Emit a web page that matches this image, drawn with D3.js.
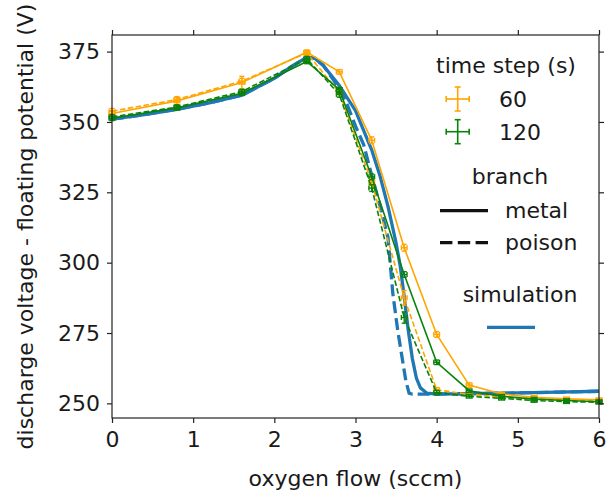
<!DOCTYPE html>
<html>
<head>
<meta charset="utf-8">
<script src="https://cdn.jsdelivr.net/npm/d3@7"></script>
<style>
  body { margin: 0; background: #fff; }
  text { font-family: "DejaVu Sans", sans-serif; fill: #1a1a1a; }
</style>
</head>
<body>
<div class="chart"></div>
<script>
// oxygen flow steps (sccm)
var flow = [0, 0.8, 1.6, 2.4, 2.8, 3.2, 3.6, 4.0, 4.4, 4.8, 5.2, 5.6, 6.0];

// measured voltage, time step 60 s
var metal60  = [353.0, 357.5, 364.0, 374.8, 367.8, 343.5, 305.3, 274.5, 256.5, 253.3, 252.2, 251.6, 251.3];
var poison60 = [353.8, 358.0, 364.5, 374.5, 360.5, 328.5, 287.5, 254.8, 253.2, 252.3, 251.7, 251.3, 251.0];
var errMetal60  = [1.0, 1.2, 2.2, 0.8, 0.8, 1.2, 1.2, 1.0, 0.8, 0.6, 0.6, 0.6, 0.6];
var errPoison60 = [1.0, 1.0, 1.0, 0.8, 0.8, 1.0, 2.6, 0.8, 0.6, 0.6, 0.6, 0.6, 0.6];

// measured voltage, time step 120 s
var metal120  = [351.3, 355.0, 360.2, 371.5, 361.5, 330.5, 295.8, 264.6, 254.5, 252.5, 251.5, 251.0, 250.6];
var poison120 = [351.8, 355.3, 360.8, 372.5, 359.8, 326.5, 280.5, 253.8, 252.5, 251.8, 251.0, 250.6, 250.4];
var errMetal120  = [0.8, 0.8, 0.8, 0.8, 0.8, 1.0, 1.0, 0.8, 0.6, 0.6, 0.6, 0.6, 0.6];
var errPoison120 = [0.8, 0.8, 0.8, 0.8, 1.0, 1.2, 2.0, 0.8, 0.6, 0.6, 0.6, 0.6, 0.6];
var flowErr = 0.035;

// simulation, metal branch
var simMetalX = [0, 0.4, 0.8, 1.2, 1.6, 2.0, 2.2, 2.4, 2.5, 2.6, 2.8, 3.0, 3.2, 3.3, 3.4, 3.5, 3.55, 3.6, 3.65, 3.7, 3.75, 3.8, 3.88, 4.0, 4.5, 5.0, 5.5, 6.0];
var simMetalY = [351.0, 352.6, 354.5, 356.8, 359.5, 365.5, 369.5, 373.0, 372.6, 370.2, 363.0, 354.0, 340.0, 331.0, 320.0, 307.0, 299.0, 288.0, 276.0, 266.0, 259.0, 255.5, 253.6, 253.3, 253.5, 253.7, 254.0, 254.3];
// simulation, poison branch
var simPoisonX = [0, 0.4, 0.8, 1.2, 1.6, 2.0, 2.2, 2.4, 2.5, 2.6, 2.8, 2.9, 3.0, 3.1, 3.2, 3.3, 3.4, 3.46, 3.52, 3.57, 3.62, 3.66, 3.7, 4.0, 4.5, 5.0, 5.5, 6.0];
var simPoisonY = [351.0, 352.6, 354.5, 356.8, 359.5, 365.5, 369.5, 373.0, 372.6, 370.2, 362.0, 356.0, 348.5, 342.0, 331.0, 320.5, 309.0, 289.0, 276.0, 267.0, 258.0, 253.6, 253.3, 253.3, 253.5, 253.7, 254.0, 254.3];

var xTicks = [0, 1, 2, 3, 4, 5, 6];
var yTicks = [250, 275, 300, 325, 350, 375];

var svgWidth = 613;
var svgHeight = 493;
var margin = { top: 35, right: 14, bottom: 75, left: 112 };
var width = svgWidth - margin.left - margin.right;
var height = svgHeight - margin.top - margin.bottom;

var orange = "#ffa500";
var green = "#0a820a";
var blue = "#1f77b4";

var svg = d3.select(".chart")
  .append("svg")
  .attr("width", svgWidth)
  .attr("height", svgHeight);

var chartGroup = svg.append("g")
  .attr("transform", `translate(${margin.left}, ${margin.top})`);

var xScale = d3.scaleLinear().domain([0, 6]).range([0, width]);
var yScale = d3.scaleLinear().domain([244.8, 380.9]).range([height, 0]);

var line = d3.line().x(d => xScale(d[0])).y(d => yScale(d[1]));

// simulation curves (drawn under the data)
chartGroup.append("path")
  .attr("d", line(d3.zip(simMetalX, simMetalY)))
  .attr("fill", "none").attr("stroke", blue).attr("stroke-width", 3.3);
chartGroup.append("path")
  .attr("d", line(d3.zip(simPoisonX, simPoisonY)))
  .attr("fill", "none").attr("stroke", blue).attr("stroke-width", 3.3)
  .attr("stroke-dasharray", "12,5");

// measured series with error bars
function drawSeries(ys, errs, color, dashed) {
  var pts = d3.zip(flow, ys, errs);
  chartGroup.append("path")
    .attr("d", line(pts))
    .attr("fill", "none").attr("stroke", color).attr("stroke-width", 1.6)
    .attr("stroke-dasharray", dashed ? "5.5,2.5" : null);

  var g = chartGroup.selectAll(null).data(pts).enter().append("g")
    .attr("stroke", color).attr("stroke-width", 1.4);
  var cap = 2.5;
  // vertical bars
  g.append("line")
    .attr("x1", d => xScale(d[0])).attr("x2", d => xScale(d[0]))
    .attr("y1", d => yScale(d[1] - d[2])).attr("y2", d => yScale(d[1] + d[2]));
  g.append("line")
    .attr("x1", d => xScale(d[0]) - cap).attr("x2", d => xScale(d[0]) + cap)
    .attr("y1", d => yScale(d[1] - d[2])).attr("y2", d => yScale(d[1] - d[2]));
  g.append("line")
    .attr("x1", d => xScale(d[0]) - cap).attr("x2", d => xScale(d[0]) + cap)
    .attr("y1", d => yScale(d[1] + d[2])).attr("y2", d => yScale(d[1] + d[2]));
  // horizontal bars
  g.append("line")
    .attr("x1", d => xScale(d[0] - flowErr)).attr("x2", d => xScale(d[0] + flowErr))
    .attr("y1", d => yScale(d[1])).attr("y2", d => yScale(d[1]));
  g.append("line")
    .attr("x1", d => xScale(d[0] - flowErr)).attr("x2", d => xScale(d[0] - flowErr))
    .attr("y1", d => yScale(d[1]) - cap).attr("y2", d => yScale(d[1]) + cap);
  g.append("line")
    .attr("x1", d => xScale(d[0] + flowErr)).attr("x2", d => xScale(d[0] + flowErr))
    .attr("y1", d => yScale(d[1]) - cap).attr("y2", d => yScale(d[1]) + cap);
}

drawSeries(metal60, errMetal60, orange, false);
drawSeries(poison60, errPoison60, orange, true);
drawSeries(metal120, errMetal120, green, false);
drawSeries(poison120, errPoison120, green, true);

// axes, ticks on all four sides
var bottomAxis = d3.axisBottom(xScale).tickValues(xTicks).tickFormat(d3.format("d")).tickSize(5).tickPadding(8);
var leftAxis = d3.axisLeft(yScale).tickValues(yTicks).tickSize(5).tickPadding(7);
var topAxis = d3.axisTop(xScale).tickValues(xTicks).tickFormat("").tickSize(5);
var rightAxis = d3.axisRight(yScale).tickValues(yTicks).tickFormat("").tickSize(5);

chartGroup.append("g").attr("transform", `translate(0, ${height})`).call(bottomAxis);
chartGroup.append("g").call(leftAxis);
chartGroup.append("g").call(topAxis);
chartGroup.append("g").attr("transform", `translate(${width}, 0)`).call(rightAxis);

chartGroup.selectAll(".domain").remove();
chartGroup.selectAll(".tick line").attr("stroke", "#222").attr("stroke-width", 1.2);
chartGroup.selectAll(".tick text").attr("font-size", 22).attr("fill", "#1a1a1a")
  .style("font-family", "DejaVu Sans");

chartGroup.append("rect")
  .attr("width", width).attr("height", height)
  .attr("fill", "none").attr("stroke", "#222").attr("stroke-width", 1.2);

// axis labels
svg.append("text")
  .attr("transform", `translate(33, ${margin.top + height / 2}) rotate(-90)`)
  .attr("text-anchor", "middle")
  .attr("font-size", 22)
  .text("discharge voltage - floating potential (V)");

svg.append("text")
  .attr("x", margin.left + width / 2)
  .attr("y", 486)
  .attr("text-anchor", "middle")
  .attr("font-size", 22)
  .text("oxygen flow (sccm)");

// legends
var legend = svg.append("g");
legend.append("text").attr("x", 506).attr("y", 73).attr("text-anchor", "middle")
  .attr("font-size", 22).text("time step (s)");

function legendErr(cx, cy, color, label) {
  var g = legend.append("g").attr("stroke", color).attr("stroke-width", 1.6);
  g.append("line").attr("x1", cx - 11.5).attr("x2", cx + 11.5).attr("y1", cy).attr("y2", cy);
  g.append("line").attr("x1", cx).attr("x2", cx).attr("y1", cy - 12).attr("y2", cy + 12);
  g.append("line").attr("x1", cx - 11.5).attr("x2", cx - 11.5).attr("y1", cy - 3).attr("y2", cy + 3);
  g.append("line").attr("x1", cx + 11.5).attr("x2", cx + 11.5).attr("y1", cy - 3).attr("y2", cy + 3);
  g.append("line").attr("x1", cx - 3).attr("x2", cx + 3).attr("y1", cy - 12).attr("y2", cy - 12);
  g.append("line").attr("x1", cx - 3).attr("x2", cx + 3).attr("y1", cy + 12).attr("y2", cy + 12);
  legend.append("text").attr("x", 499).attr("y", cy + 8).attr("font-size", 22).text(label);
}
legendErr(457.7, 99, orange, "60");
legendErr(457.7, 131.7, green, "120");

legend.append("text").attr("x", 510).attr("y", 184).attr("text-anchor", "middle")
  .attr("font-size", 22).text("branch");
legend.append("line").attr("x1", 440).attr("x2", 488).attr("y1", 210.7).attr("y2", 210.7)
  .attr("stroke", "#111").attr("stroke-width", 3.3);
legend.append("text").attr("x", 505).attr("y", 218).attr("font-size", 22).text("metal");
legend.append("line").attr("x1", 440).attr("x2", 488).attr("y1", 242.7).attr("y2", 242.7)
  .attr("stroke", "#111").attr("stroke-width", 3.3).attr("stroke-dasharray", "12.4,5.4");
legend.append("text").attr("x", 505).attr("y", 250).attr("font-size", 22).text("poison");

legend.append("text").attr("x", 520).attr("y", 302).attr("text-anchor", "middle")
  .attr("font-size", 22).text("simulation");
legend.append("line").attr("x1", 487).attr("x2", 535).attr("y1", 327.3).attr("y2", 327.3)
  .attr("stroke", blue).attr("stroke-width", 3.3);
</script>
</body>
</html>
